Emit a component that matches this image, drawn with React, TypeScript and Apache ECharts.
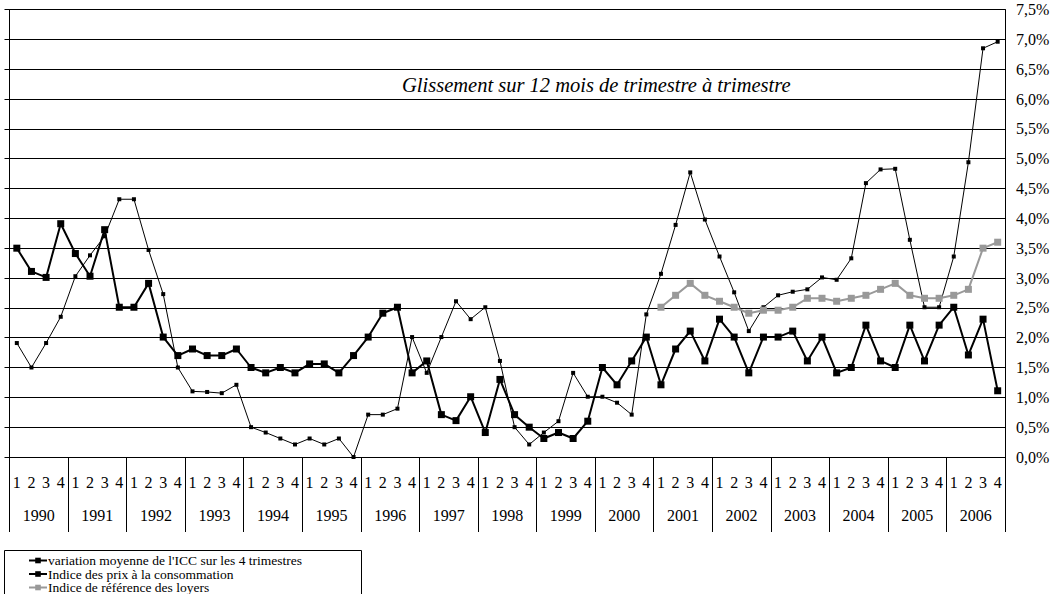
import React, { useEffect, useRef } from "react";
import * as echarts from "echarts";

const years = ["1990","1991","1992","1993","1994","1995","1996","1997","1998","1999","2000","2001","2002","2003","2004","2005","2006"];
const quarterLabels = ["1", "2", "3", "4"];
const quarters = years.flatMap(() => quarterLabels);

const iccValues = [
  1.91, 1.5, 1.91, 2.35,
  3.03, 3.38, 3.7, 4.32,
  4.32, 3.47, 2.73, 1.5,
  1.1, 1.09, 1.07, 1.21,
  0.5, 0.41, 0.31, 0.21,
  0.31, 0.21, 0.31, 0.0,
  0.71, 0.71, 0.81, 2.01,
  1.41, 2.01, 2.61, 2.31,
  2.51, 1.61, 0.5, 0.21,
  0.41, 0.6, 1.41, 1.01,
  1.01, 0.91, 0.71, 2.39,
  3.07, 3.89, 4.77, 3.98,
  3.36, 2.76, 2.11, 2.51,
  2.71, 2.77, 2.81, 3.01,
  2.97, 3.33, 4.59, 4.82,
  4.83, 3.64, 2.51, 2.51,
  3.36, 4.94, 6.85, 6.96,
];

const cpiValues = [
  3.5, 3.11, 3.01, 3.91,
  3.41, 3.03, 3.81, 2.51,
  2.51, 2.91, 2.01, 1.7,
  1.81, 1.7, 1.7, 1.81,
  1.5, 1.41, 1.5, 1.41,
  1.56, 1.56, 1.41, 1.7,
  2.01, 2.41, 2.51, 1.41,
  1.61, 0.71, 0.61, 1.01,
  0.41, 1.3, 0.71, 0.5,
  0.31, 0.41, 0.31, 0.6,
  1.5, 1.21, 1.61, 2.01,
  1.21, 1.81, 2.11, 1.61,
  2.31, 2.01, 1.41, 2.01,
  2.01, 2.11, 1.61, 2.01,
  1.41, 1.5, 2.21, 1.61,
  1.5, 2.21, 1.61, 2.21,
  2.51, 1.71, 2.31, 1.11,
];

const irlValues = [
  null, null, null, null, null, null, null, null, null, null, null, null,
  null, null, null, null, null, null, null, null, null, null, null, null,
  null, null, null, null, null, null, null, null, null, null, null, null,
  null, null, null, null, null, null, null, null,
  2.51, 2.71, 2.91, 2.71,
  2.61, 2.51, 2.41, 2.46,
  2.46, 2.51, 2.66, 2.66,
  2.61, 2.66, 2.71, 2.81,
  2.91, 2.71, 2.66, 2.66,
  2.71, 2.81, 3.5, 3.6,
];

const seriesNames = [
  "variation moyenne de l'ICC sur les 4 trimestres",
  "Indice des prix à la consommation",
  "Indice de référence des loyers",
];

const titleText = "Glissement sur 12 mois de trimestre à trimestre";

const FONT = "Liberation Serif";

export default function App() {
  const ref = useRef<HTMLDivElement>(null);
  useEffect(() => {
    if (!ref.current) return;
    const chart = echarts.init(ref.current, undefined, { renderer: "svg" });
    const legendTops = [553.5, 567, 580.5];
    chart.setOption({
      animation: false,
      backgroundColor: "#fff",
      textStyle: { fontFamily: FONT, color: "#000" },
      grid: { left: 9.5, right: 58, top: 9.5, bottom: 137, containLabel: false },
      legend: seriesNames.map((name, i) => ({
        orient: "horizontal",
        left: 28,
        top: legendTops[i],
        itemWidth: 18,
        itemHeight: 7,
        itemGap: 0,
        padding: 0,
        textStyle: { fontFamily: FONT, fontSize: 13.5, lineHeight: 13.5, color: "#000", padding: [0, 0, 0, -4] },
        data: [name],
      })),
      graphic: [
        {
          type: "text",
          x: 402,
          y: 85,
          style: {
            text: titleText,
            fontFamily: FONT,
            fontStyle: "italic",
            fontSize: 20.5,
            fill: "#000",
            verticalAlign: "middle",
            align: "left",
          },
          z: 10,
        },
        {
          type: "rect",
          shape: { x: 4.5, y: 550.5, width: 357, height: 60 },
          style: { fill: "none", stroke: "#000", lineWidth: 1 },
          z: 10,
        },
      ],
      xAxis: [
        {
          type: "category",
          data: quarters,
          position: "bottom",
          boundaryGap: true,
          axisLine: { show: true, lineStyle: { color: "#000", width: 1 } },
          axisTick: { show: false },
          axisLabel: { interval: 0, margin: 17, fontFamily: FONT, fontSize: 16, color: "#000" },
        },
        {
          type: "category",
          data: years,
          position: "bottom",
          boundaryGap: true,
          axisLine: { show: false },
          axisTick: { show: true, length: 75, interval: 0, lineStyle: { color: "#000", width: 1 } },
          axisLabel: { interval: 0, margin: 50, fontFamily: FONT, fontSize: 16, color: "#000" },
        },
      ],
      yAxis: [
        {
          type: "value",
          min: 0,
          max: 7.5,
          interval: 0.5,
          position: "right",
          axisLine: { show: true, lineStyle: { color: "#000", width: 1 } },
          axisTick: { show: false },
          splitLine: { show: true, lineStyle: { color: "#000", width: 1 } },
          axisLabel: {
            margin: 11,
            fontFamily: FONT,
            fontSize: 16,
            color: "#000",
            formatter: (v: number) => v.toFixed(1).replace(".", ",") + "%",
          },
        },
        {
          type: "value",
          min: 0,
          max: 7.5,
          interval: 0.5,
          position: "left",
          axisLine: { show: true, lineStyle: { color: "#000", width: 1 } },
          axisTick: { show: true, length: 5, lineStyle: { color: "#000" } },
          splitLine: { show: false },
          axisLabel: { show: false },
        },
      ],
      series: [
        {
          name: seriesNames[0],
          type: "line",
          data: iccValues,
          symbol: "rect",
          symbolSize: 4,
          lineStyle: { color: "#000", width: 1 },
          itemStyle: { color: "#000" },
          z: 3,
        },
        {
          name: seriesNames[1],
          type: "line",
          data: cpiValues,
          symbol: "rect",
          symbolSize: 7,
          lineStyle: { color: "#000", width: 2 },
          itemStyle: { color: "#000" },
          z: 4,
        },
        {
          name: seriesNames[2],
          type: "line",
          data: irlValues,
          symbol: "rect",
          symbolSize: 7,
          lineStyle: { color: "#999", width: 2 },
          itemStyle: { color: "#999" },
          z: 5,
        },
      ],
    });
    return () => chart.dispose();
  }, []);
  return <div ref={ref} style={{ width: 1063, height: 594, position: "absolute", left: 0, top: 0 }} />;
}
